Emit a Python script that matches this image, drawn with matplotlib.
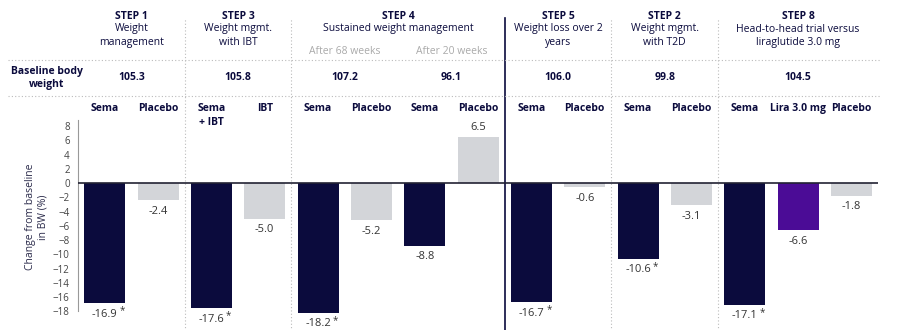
import matplotlib.pyplot as plt
import matplotlib.transforms as mtransforms

plt.rcParams['font.family'] = ['Open Sans', 'DejaVu Sans']

# data
arms = ["Sema", "Placebo", "Sema\n+ IBT", "IBT", "Sema", "Placebo", "Sema", "Placebo",
        "Sema", "Placebo", "Sema", "Placebo", "Sema", "Lira 3.0 mg", "Placebo"]
change = [-16.9, -2.4, -17.6, -5.0, -18.2, -5.2, -8.8, 6.5,
          -16.7, -0.6, -10.6, -3.1, -17.1, -6.6, -1.8]
kind = ["sema", "pbo", "sema", "pbo", "sema", "pbo", "sema", "pbo",
        "sema", "pbo", "sema", "pbo", "sema", "lira", "pbo"]
signif = [True, False, True, False, True, False, False, False,
          True, False, True, False, True, False, False]

steps = ["STEP 1", "STEP 3", "STEP 4", "STEP 5", "STEP 2", "STEP 8"]
step_sub = ["Weight\nmanagement", "Weight mgmt.\nwith IBT", "Sustained weight management",
            "Weight loss over 2\nyears", "Weight mgmt.\nwith T2D",
            "Head-to-head trial versus\nliraglutide 3.0 mg"]
step_bars = [(0, 1), (2, 3), (4, 7), (8, 9), (10, 11), (12, 14)]

baseline = ["105.3", "105.8", "107.2", "96.1", "106.0", "99.8", "104.5"]
baseline_pos = [0.5, 2.5, 4.5, 6.5, 8.5, 10.5, 13]
period = ["After 68 weeks", "After 20 weeks"]
period_pos = [4.5, 6.5]

navy = "#0b0b3d"
colors = {"sema": navy, "pbo": "#d3d5d9", "lira": "#4b0c96"}
txt = "#333333"
fs = 7.5

fig = plt.figure(figsize=(9, 3.3), dpi=100)
ax = fig.add_axes([0.0867, 0.0479, 0.889, 0.5876])

x = list(range(len(change)))
ax.bar(x, change, width=0.77, color=[colors[k] for k in kind], clip_on=False, zorder=2)

for i, v in enumerate(change):
    if v < 0:
        ax.annotate(f"{v:.1f}", (i, v), xytext=(0, -4), textcoords="offset points",
                    ha="center", va="top", fontsize=8, color=txt, annotation_clip=False)
        if signif[i]:
            ax.annotate("*", (i, v), xytext=(12.5, -1.5), textcoords="offset points",
                        ha="center", va="top", fontsize=7, color=txt,
                        annotation_clip=False)
    else:
        ax.annotate(f"{v:.1f}", (i, v), xytext=(0, 3), textcoords="offset points",
                    ha="center", va="bottom", fontsize=8, color=txt)

ax.set_xlim(-0.5, 14.5)
ax.set_ylim(-18.4, 8.8)
ax.set_yticks(range(-18, 9, 2))
ax.tick_params(axis="y", length=0, labelsize=7, colors="#444444", pad=6)
ax.set_xticks([])
for s in ["top", "right", "bottom"]:
    ax.spines[s].set_visible(False)
ax.spines["left"].set_color("#999999")
ax.spines["left"].set_bounds(-18, 8.8)
ax.axhline(0, color="#222233", lw=1.2, zorder=3)
ax.set_ylabel("Change from baseline\nin BW (%)", fontsize=fs, color="#2a2a4a", labelpad=3)

# separators
for p in [1.5, 3.5, 9.5, 11.5]:
    ax.axvline(p, ymin=-0.085, ymax=1.527, color="#bbbbbb", lw=0.8, ls=(0, (1, 2)),
               clip_on=False, zorder=1)
ax.axvline(7.5, ymin=-0.085, ymax=1.527, color=navy, lw=1.2, clip_on=False, zorder=1)

fy = mtransforms.blended_transform_factory(ax.transData, fig.transFigure)
for yy in [1 - 60 / 330, 1 - 96 / 330]:
    fig.add_artist(plt.Line2D([8 / 900, 880 / 900], [yy, yy], color="#bbbbbb", lw=0.8,
                              ls=(0, (1, 2)), transform=fig.transFigure))

# headers
for name, sub, (a, b) in zip(steps, step_sub, step_bars):
    cx = (a + b) / 2
    ax.text(cx, 1 - 16.5 / 330, name, transform=fy, ha="center", va="center",
            fontsize=fs, fontweight="bold", color=navy)
    ax.text(cx, 1 - 23.5 / 330, sub, transform=fy, ha="center", va="top",
            fontsize=fs, color=navy, linespacing=1.35)

for lab, p in zip(period, period_pos):
    ax.text(p, 1 - 51 / 330, lab, transform=fy, ha="center", va="center",
            fontsize=fs, color="#aaaaaa")

fig.text(47 / 900, 1 - 78 / 330, "Baseline body\nweight", ha="center", va="center",
         fontsize=fs, fontweight="bold", color=navy, linespacing=1.2)
for val, p in zip(baseline, baseline_pos):
    ax.text(p, 1 - 78 / 330, val, transform=fy, ha="center", va="center",
            fontsize=fs, fontweight="bold", color=navy)

for i, lab in enumerate(arms):
    ax.text(i, 1 - 103 / 330, lab, transform=fy, ha="center", va="top",
            fontsize=fs, fontweight="bold", color=navy, linespacing=1.35)

fig.savefig("out.png", dpi=100)
